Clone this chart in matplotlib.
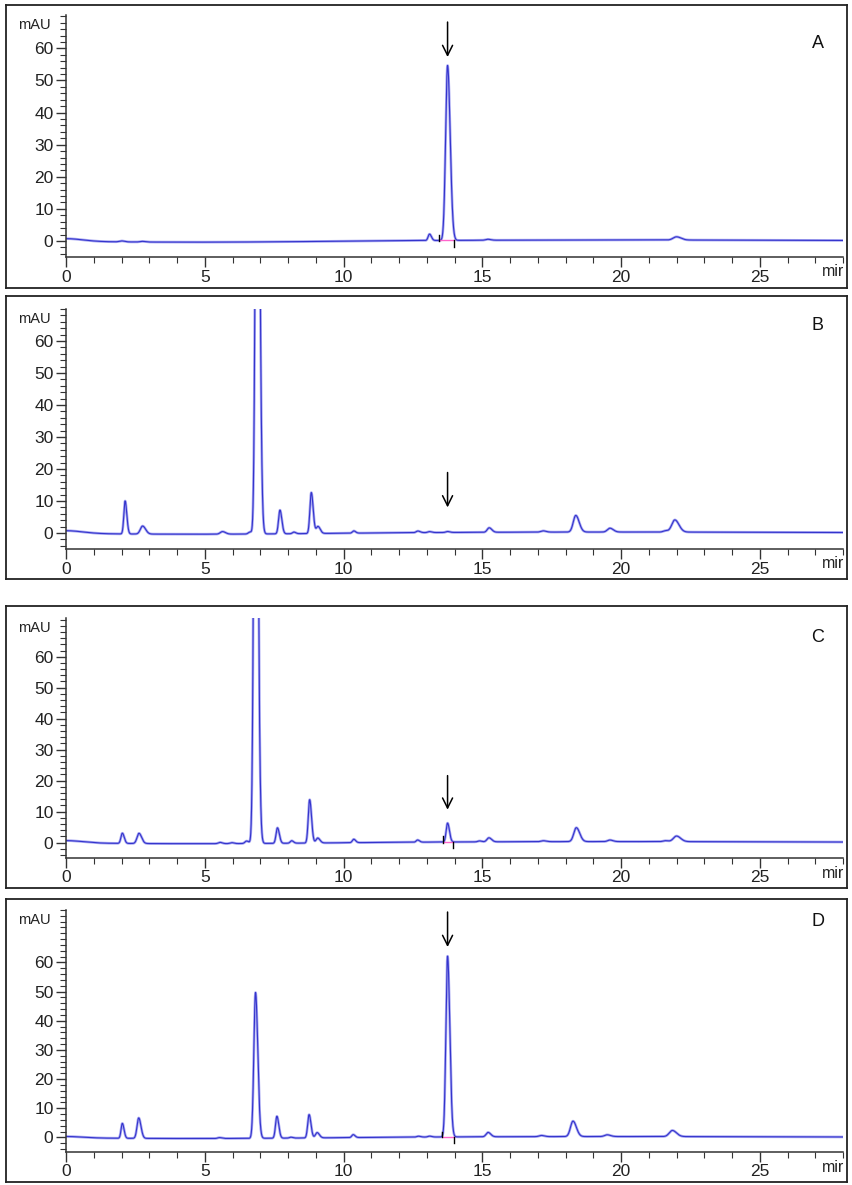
"""
Four HPLC chromatograms (A-D) stacked, each in its own boxed panel.
Peaks are read off the reference trace as (retention time, height, width).
"""
import matplotlib
matplotlib.use("Agg")
import matplotlib.pyplot as plt
from matplotlib.ticker import MultipleLocator, FixedLocator
import numpy as np

plt.rcParams["font.family"] = ["Liberation Sans", "DejaVu Sans"]

W, H = 852, 1185

panel_labels = ["A", "B", "C", "D"]

# peak tables: retention time (min), height (mAU), width (sigma, min)
peaks_A_rt = [0.0, 2.0, 2.75, 13.1, 13.75, 15.2, 22.0]
peaks_A_h = [0.9, 0.3, 0.2, 2.0, 54.5, 0.3, 1.0]
peaks_A_w = [0.45, 0.08, 0.08, 0.05, 0.07, 0.08, 0.12]

peaks_B_rt = [0.0, 2.13, 2.76, 5.64, 6.63, 6.89, 7.71, 8.21, 8.84, 9.08,
              10.37, 12.68, 13.1, 13.75, 15.25, 17.19, 18.37, 19.6, 21.6, 21.94]
peaks_B_h = [0.9, 10.3, 2.5, 0.8, 0.6, 200.0, 7.4, 0.5, 12.8, 2.2,
             0.7, 0.5, 0.3, 0.3, 1.4, 0.4, 5.2, 1.2, 0.4, 3.8]
peaks_B_w = [0.45, 0.045, 0.08, 0.08, 0.06, 0.06, 0.05, 0.05, 0.05, 0.06,
             0.05, 0.06, 0.06, 0.06, 0.07, 0.08, 0.09, 0.09, 0.08, 0.11]

peaks_C_rt = [0.0, 2.03, 2.63, 5.55, 5.97, 6.51, 6.83, 7.62, 8.13, 8.78, 9.07,
              10.37, 12.67, 13.75, 14.9, 15.24, 17.2, 18.39, 19.6, 21.6, 22.0]
peaks_C_h = [0.8, 3.3, 3.3, 0.4, 0.3, 0.8, 200.0, 5.0, 0.8, 14.0, 1.6,
             1.1, 0.7, 6.1, 0.3, 1.3, 0.3, 4.5, 0.5, 0.3, 1.8]
peaks_C_w = [0.45, 0.05, 0.07, 0.06, 0.06, 0.06, 0.06, 0.05, 0.05, 0.05, 0.06,
             0.05, 0.05, 0.05, 0.06, 0.07, 0.08, 0.09, 0.08, 0.08, 0.11]

peaks_D_rt = [0.0, 2.03, 2.62, 5.53, 6.83, 7.6, 8.1, 8.76, 9.05, 10.35,
              12.7, 13.1, 13.75, 15.21, 17.13, 18.27, 19.5, 21.85]
peaks_D_h = [0.5, 5.1, 7.0, 0.3, 50.0, 7.5, 0.3, 8.0, 1.8, 1.0,
             0.3, 0.3, 62.0, 1.5, 0.4, 5.3, 0.6, 2.1]
peaks_D_w = [0.45, 0.045, 0.06, 0.06, 0.06, 0.05, 0.05, 0.05, 0.06, 0.05,
             0.06, 0.06, 0.06, 0.07, 0.08, 0.09, 0.09, 0.11]

# slow drift of the baseline: (centre, height, width)
drift_rt = [5.0, 20.0]
drift_h = [-0.4, 0.3]
drift_w = [4.0, 7.0]

# y range of each panel (mAU)
ylims = [(-5, 70.4), (-5, 70), (-5, 72.5), (-5, 78)]

# arrow over the target peak: tail / tip heights (mAU)
arrow_rt = 13.75
arrow_tail = [68.2, 18.9, 21.6, 77.3]
arrow_tip = [57.3, 8.0, 10.6, 65.3]

# integration marks (start, end) under the target peak, None = not drawn
integ = [(13.45, 13.98), None, (13.6, 13.95), (13.55, 13.98)]

peak_tables = [
    (peaks_A_rt, peaks_A_h, peaks_A_w),
    (peaks_B_rt, peaks_B_h, peaks_B_w),
    (peaks_C_rt, peaks_C_h, peaks_C_w),
    (peaks_D_rt, peaks_D_h, peaks_D_w),
]

# panel boxes and plot areas in pixels (top, bottom)
boxes = [(5, 288), (296, 579), (606, 888), (899, 1182)]
plot_rows = [(15, 257), (309, 549), (618, 858), (910, 1152)]
letter_y = [43, 325, 637, 922]
box_x = (6, 847)
plot_x = (66, 843)


def trace(t, rts, hs, ws):
    y = np.zeros_like(t)
    for rt, h, w in zip(rts, hs, ws):
        # slight tailing: right side a bit wider than the left
        s = np.where(t < rt, w, w * 1.35)
        y += h * np.exp(-0.5 * ((t - rt) / s) ** 2)
    for rt, h, w in zip(drift_rt, drift_h, drift_w):
        y += h * np.exp(-0.5 * ((t - rt) / w) ** 2)
    return y


def px_rect(x0, y0, x1, y1):
    return [x0 / W, 1 - y1 / H, (x1 - x0) / W, (y1 - y0) / H]


fig = plt.figure(figsize=(W / 100, H / 100), dpi=100)
t = np.linspace(0, 28, 8000)

for i, lab in enumerate(panel_labels):
    by0, by1 = boxes[i]
    py0, py1 = plot_rows[i]

    # boxed frame around the whole panel
    frame = fig.add_axes(px_rect(box_x[0], by0, box_x[1], by1))
    frame.set_xlim(box_x[0], box_x[1])
    frame.set_ylim(by1, by0)
    frame.set_xticks([])
    frame.set_yticks([])
    for sp in frame.spines.values():
        sp.set_linewidth(1.3)
        sp.set_color("#222222")
    # time unit, cut short by the border in the original
    frame.text(844, py1 + 15, "mir", fontsize=11.5, color="#222222",
               va="center", ha="right")
    frame.text(818, letter_y[i], lab, fontsize=13, ha="center", va="center",
               color="#111111")

    ax = fig.add_axes(px_rect(plot_x[0], py0, plot_x[1], py1))
    ax.patch.set_alpha(0)
    rts, hs, ws = peak_tables[i]
    y = trace(t, rts, hs, ws)
    ax.plot(t, y, color="#a8a8f2", lw=1.9, solid_joinstyle="round")
    ax.plot(t, y, color="#3434cc", lw=0.8)

    if integ[i] is not None:
        s, e = integ[i]
        ax.plot([s, e], [0.2, 0.2], color="#ff66cc", lw=1.0)
        ax.plot([s, s], [0.0, 2.0], color="black", lw=1.0)
        ax.plot([e, e], [-1.8, 0.2], color="black", lw=1.0)

    ax.annotate("", xy=(arrow_rt, arrow_tip[i]), xytext=(arrow_rt, arrow_tail[i]),
                arrowprops=dict(arrowstyle="->", lw=1.1, color="black",
                                mutation_scale=18, shrinkA=0, shrinkB=0))

    ax.set_xlim(0, 28)
    ax.set_ylim(*ylims[i])
    ax.spines["top"].set_visible(False)
    ax.spines["right"].set_visible(False)
    for sp in ("left", "bottom"):
        ax.spines[sp].set_color("#333333")
        ax.spines[sp].set_linewidth(1.1)
    ax.xaxis.set_major_locator(MultipleLocator(5))
    ax.xaxis.set_minor_locator(MultipleLocator(1))
    ax.yaxis.set_major_locator(FixedLocator([0, 10, 20, 30, 40, 50, 60]))
    ax.yaxis.set_minor_locator(MultipleLocator(2))
    ax.tick_params(which="major", length=7, width=1.0, color="#333333",
                   labelsize=12.5, labelcolor="#222222", pad=2)
    ax.tick_params(which="minor", length=4, width=0.8, color="#333333")

    ax.text(-0.02, 1.0 - 10 / (py1 - py0), "mAU", transform=ax.transAxes,
            ha="right", va="center", fontsize=10.5, color="#222222")

fig.savefig("out.png", dpi=100)
